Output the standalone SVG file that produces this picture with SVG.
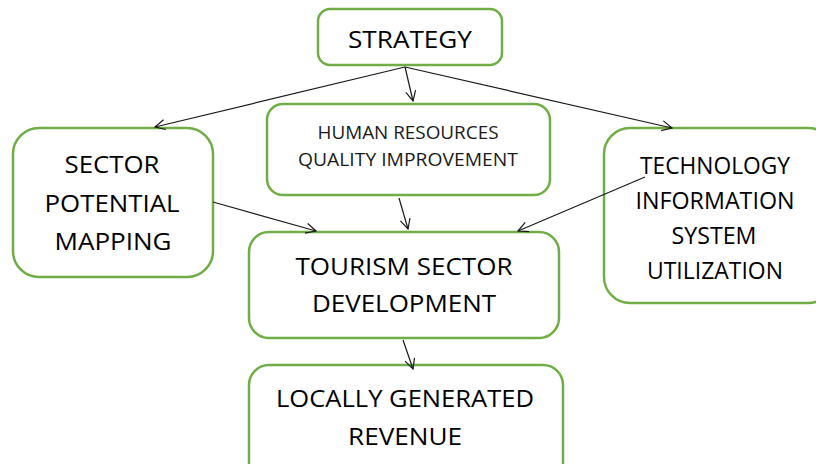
<svg xmlns="http://www.w3.org/2000/svg" width="816" height="464" viewBox="0 0 816 464">
  <style>
    .box { fill: #ffffff; stroke: #70ad47; stroke-width: 2.5; }
    .lbl { font-family: "Open Sans", "Liberation Sans", sans-serif; font-size: 24px; fill: #000000; text-anchor: middle; }
    .sm { font-size: 18px; fill: #1a1a1a; }
    .edge { stroke: #1a1a1a; stroke-width: 1.2; fill: none; marker-end: url(#arrow); }
  </style>
  <defs>
    <marker id="arrow" viewBox="0 0 12 12" refX="11" refY="6" markerWidth="12" markerHeight="12" markerUnits="userSpaceOnUse" orient="auto">
      <path d="M1,1 L11,6 L1,11" fill="none" stroke="#1a1a1a" stroke-width="1.2"/>
    </marker>
  </defs>
  <rect width="816" height="464" fill="#ffffff"/>

  <g id="strategy">
    <rect class="box" x="318" y="9" width="184" height="56" rx="12"/>
    <text class="lbl" x="410" y="48" textLength="124" lengthAdjust="spacingAndGlyphs">STRATEGY</text>
  </g>

  <g id="sector-potential-mapping">
    <rect class="box" x="13" y="128" width="200" height="149" rx="26"/>
    <text class="lbl" x="112" y="173" textLength="95" lengthAdjust="spacingAndGlyphs">SECTOR</text>
    <text class="lbl" x="112" y="212" textLength="135" lengthAdjust="spacingAndGlyphs">POTENTIAL</text>
    <text class="lbl" x="113" y="250" textLength="117" lengthAdjust="spacingAndGlyphs">MAPPING</text>
  </g>

  <g id="human-resources">
    <rect class="box" x="267" y="104" width="283" height="91" rx="16"/>
    <text class="lbl sm" x="408" y="139" textLength="181" lengthAdjust="spacingAndGlyphs">HUMAN RESOURCES</text>
    <text class="lbl sm" x="408" y="166" textLength="220" lengthAdjust="spacingAndGlyphs">QUALITY IMPROVEMENT</text>
  </g>

  <g id="technology">
    <rect class="box" x="604" y="128" width="230" height="175" rx="26"/>
    <text class="lbl" x="715" y="174" textLength="150" lengthAdjust="spacingAndGlyphs">TECHNOLOGY</text>
    <text class="lbl" x="715" y="209" textLength="159" lengthAdjust="spacingAndGlyphs">INFORMATION</text>
    <text class="lbl" x="714" y="244" textLength="85" lengthAdjust="spacingAndGlyphs">SYSTEM</text>
    <text class="lbl" x="715" y="279" textLength="136" lengthAdjust="spacingAndGlyphs">UTILIZATION</text>
  </g>

  <g id="tourism-sector">
    <rect class="box" x="249" y="232" width="310" height="106" rx="20"/>
    <text class="lbl" x="404" y="275" textLength="217" lengthAdjust="spacingAndGlyphs">TOURISM SECTOR</text>
    <text class="lbl" x="404" y="312" textLength="184" lengthAdjust="spacingAndGlyphs">DEVELOPMENT</text>
  </g>

  <g id="locally-generated-revenue">
    <rect class="box" x="249" y="365" width="314" height="120" rx="20"/>
    <text class="lbl" x="405" y="407" textLength="258" lengthAdjust="spacingAndGlyphs">LOCALLY GENERATED</text>
    <text class="lbl" x="405" y="445" textLength="114" lengthAdjust="spacingAndGlyphs">REVENUE</text>
  </g>

  <!-- connectors drawn last so the technology link shows over its box -->
  <g id="connectors">
    <line class="edge" x1="405" y1="67" x2="155" y2="127"/>
    <line class="edge" x1="405" y1="67" x2="413" y2="101"/>
    <line class="edge" x1="405" y1="67" x2="672" y2="128"/>
    <line class="edge" x1="213" y1="202" x2="316" y2="231"/>
    <line class="edge" x1="399" y1="198" x2="408" y2="229"/>
    <line class="edge" x1="645" y1="177" x2="518" y2="231"/>
    <line class="edge" x1="403" y1="340" x2="413" y2="369"/>
  </g>
</svg>
